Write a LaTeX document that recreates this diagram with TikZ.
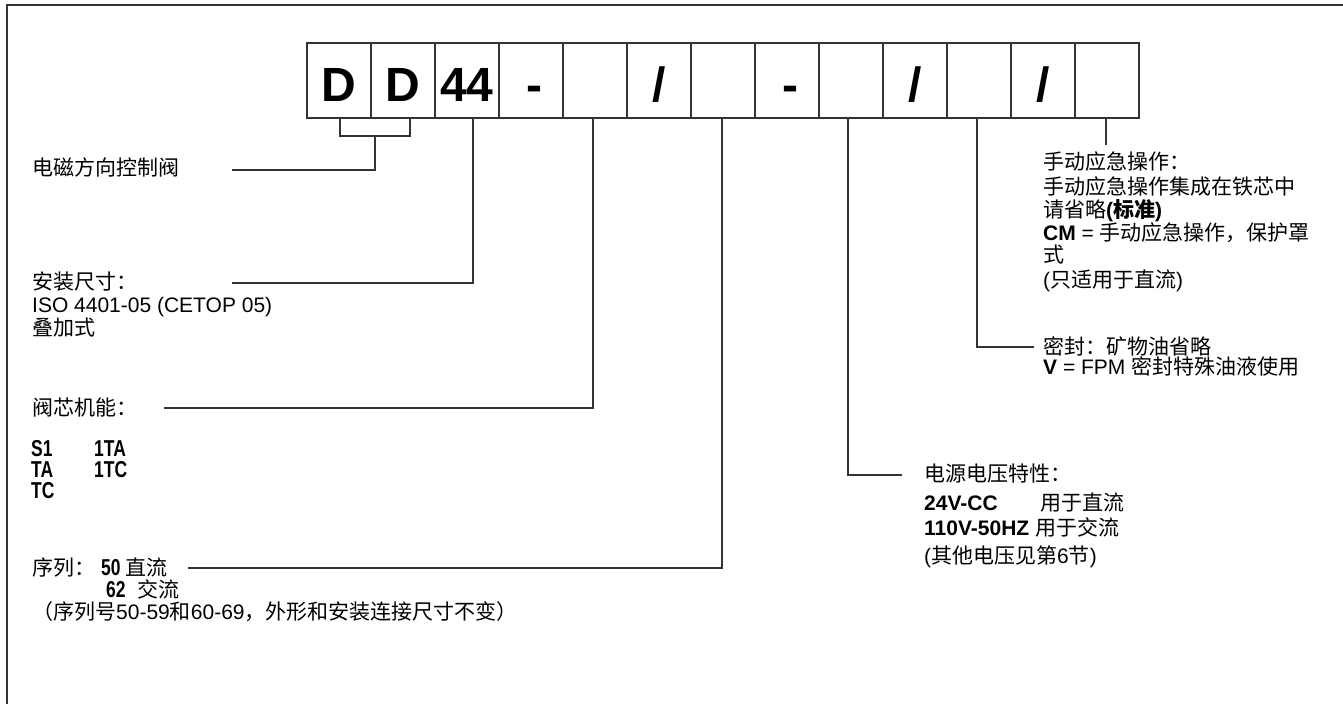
\documentclass[tikz,border=0pt]{standalone}
\usepackage{fontspec}
\setmainfont{Liberation Sans}
\newfontfamily\cjk{Noto Sans CJK SC}
\newfontfamily\narrowfont[FakeStretch=0.76]{Liberation Sans}
\newcommand\zh[1]{{\cjk #1}}
\begin{document}
\begin{tikzpicture}[x=1pt,y=-1pt,
  cell/.style={draw=black!80, line width=1.2pt, minimum width=64pt, minimum height=75pt,
    inner sep=0pt, text height=42pt, text depth=0pt,
    font=\fontsize{48}{50}\selectfont\bfseries},
  lbl/.style={anchor=base west, inner sep=0pt, font=\fontsize{21}{23}\selectfont},
  nlbl/.style={lbl, font=\fontsize{23}{25}\selectfont\narrowfont\bfseries},
  conn/.style={draw=black!80, line width=1.3pt},
  frame/.style={draw=black!80, line width=2pt}]
\useasboundingbox (0,0) rectangle (1343,704);
\draw[frame] (7,704) -- (7,5) -- (1343,5);

% code boxes
\node[cell] (b1) at (339,80.5) {D};
\node[cell] (b2) at (403,80.5) {D};
\node[cell] (b3) at (467,80.5) {44};
\node[cell] (b4) at (531,80.5) {\hspace*{6pt}-};
\node[cell] (b5) at (595,80.5) {};
\node[cell] (b6) at (659,80.5) {/};
\node[cell] (b7) at (723,80.5) {};
\node[cell] (b8) at (787,80.5) {\hspace*{6pt}-};
\node[cell] (b9) at (851,80.5) {};
\node[cell] (b10) at (915,80.5) {/};
\node[cell] (b11) at (979,80.5) {};
\node[cell] (b12) at (1043,80.5) {/};
\node[cell] (b13) at (1107,80.5) {};

% free ends
\coordinate (m1) at (375,136);
\coordinate (e1) at (232,170);
\coordinate (e2) at (232,283);
\coordinate (e3) at (164,408);
\coordinate (e4) at (188,568);
\coordinate (e5) at (902,475);
\coordinate (e6) at (1034,347);
\coordinate (e7) at (1106,145);

% connectors
\draw[conn] ([xshift=1pt]b1.south) |- (m1) -| ([xshift=7pt]b2.south);
\draw[conn] (m1) |- (e1);
\draw[conn] ([xshift=6pt]b3.south) |- (e2);
\draw[conn] ([xshift=-2pt]b5.south) |- (e3);
\draw[conn] ([xshift=-1pt]b7.south) |- (e4);
\draw[conn] ([xshift=-3pt]b9.south) |- (e5);
\draw[conn] ([xshift=-2pt]b11.south) |- (e6);
\draw[conn] ([xshift=-1pt]b13.south) -- ([xshift=-1pt]b13.south |- e7);

% left labels
\node[lbl] (t1) at (32,175.5) {\zh{电磁方向控制阀}};
\node[lbl] (t2) at (32,289.5) {\zh{安装尺寸：}};
\node[lbl] (t3) at (32,312.5) {ISO 4401-05 (CETOP 05)};
\node[lbl] (t4) at (32,335) {\zh{叠加式}};
\node[lbl] (t5) at (32,415.5) {\zh{阀芯机能：}};
\node[nlbl] (s1a) at (31,456) {S1};
\node[nlbl] (s1b) at (94,456) {1TA};
\node[nlbl] (s2a) at (31,477) {TA};
\node[nlbl] (s2b) at (94,477) {1TC};
\node[nlbl] (s3a) at (31,498) {TC};
\node[lbl] (q1a) at (32,575.5) {\zh{序列：}};
\node[nlbl] (q1b) at (101,575.5) {50};
\node[lbl] (q1c) at (125,575.5) {\zh{直流}};
\node[nlbl] (q2a) at (106,597) {62};
\node[lbl] (q2b) at (137,597) {\zh{交流}};
\node[lbl] (q3) at (32,619.5) {\zh{（序列号}50-59\zh{和}60-69\zh{，外形和安装连接尺寸不变）}};

% right labels
\node[lbl] (r1) at (1043,169.5) {\zh{手动应急操作：}};
\node[lbl] (r2) at (1043,194.5) {\zh{手动应急操作集成在铁芯中}};
\node[lbl] (r3) at (1043,217.5) {\zh{请省略}\textbf{(\zh{\bfseries 标准})}};
\node[lbl] (r4) at (1043,240.5) {\textbf{CM} = \zh{手动应急操作，保护罩}};
\node[lbl] (r5) at (1043,262.5) {\zh{式}};
\node[lbl] (r6) at (1043,287.5) {(\zh{只适用于直流})};
\node[lbl] (r7) at (1043,354) {\zh{密封：矿物油省略}};
\node[lbl] (r8) at (1043,374) {\textbf{V} = FPM \zh{密封特殊油液使用}};

\node[lbl] (v1) at (924,481.5) {\zh{电源电压特性：}};
\node[lbl] (v2a) at (924,510.5) {\textbf{24V-CC}};
\node[lbl] (v2b) at (1040,510.5) {\zh{用于直流}};
\node[lbl] (v3) at (924,535.5) {\textbf{110V-50HZ} \zh{用于交流}};
\node[lbl] (v4) at (924,563.5) {(\zh{其他电压见第}6\zh{节})};
\end{tikzpicture}
\end{document}
